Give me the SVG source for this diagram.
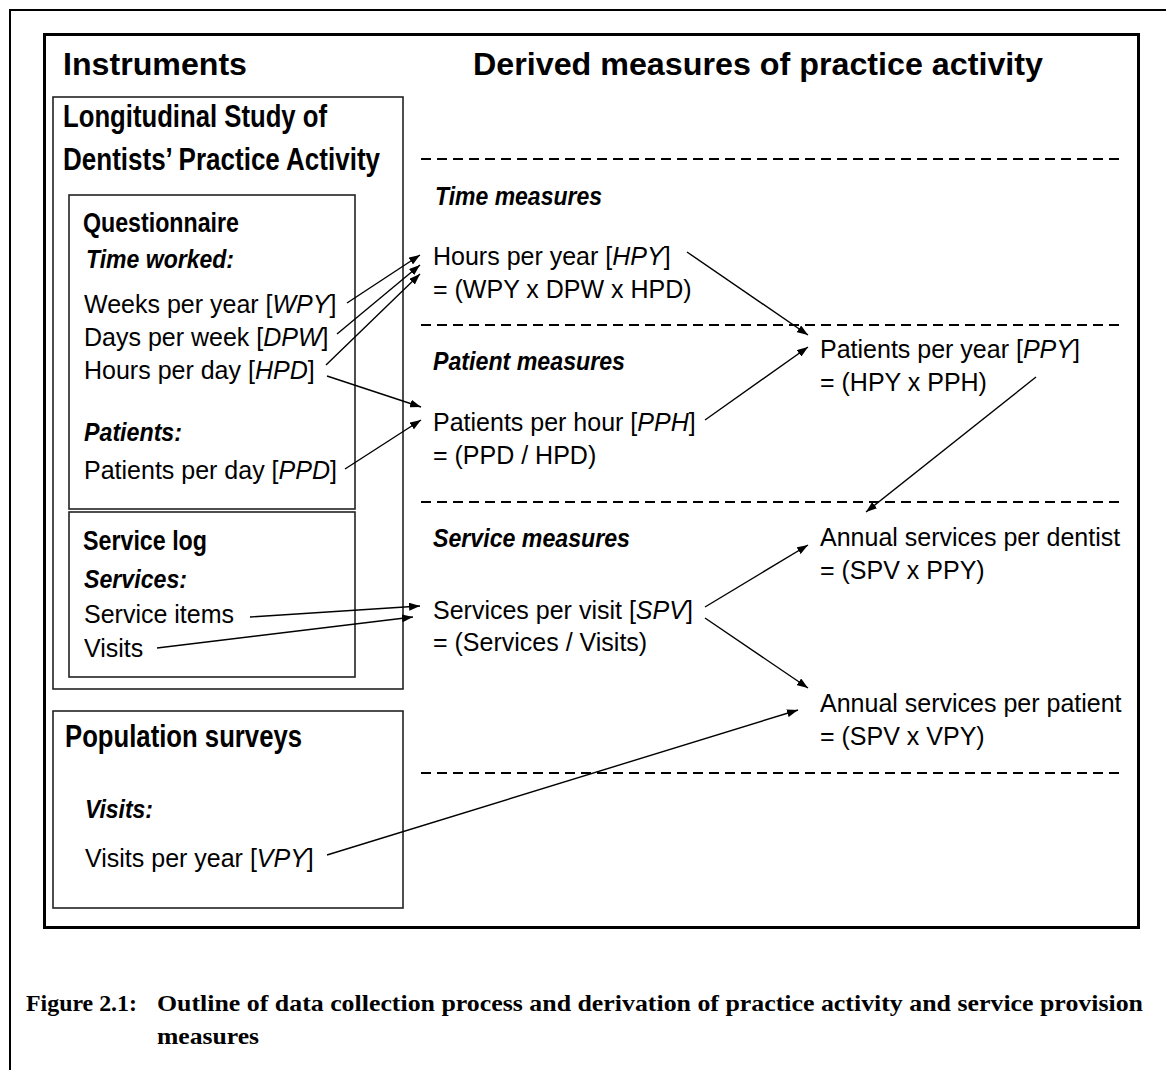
<svg xmlns="http://www.w3.org/2000/svg" width="1166" height="1070" viewBox="0 0 1166 1070">
<style>
.frame{fill:none;stroke:#000}
.box{fill:none;stroke:#222;stroke-width:1.6}
.dash{stroke:#000;stroke-width:2;stroke-dasharray:10 6}
.conn{stroke:#000;stroke-width:1.4;fill:none;marker-end:url(#ah)}
.t{font-family:"Liberation Sans",Arial,sans-serif;font-size:25px;fill:#000}
.h{font-family:"Liberation Sans",Arial,sans-serif;font-weight:bold;fill:#000}
.hi{font-family:"Liberation Sans",Arial,sans-serif;font-weight:bold;font-style:italic;fill:#000}
.cap{font-family:"Liberation Serif","Times New Roman",serif;font-weight:bold;font-size:23px;fill:#000}
</style>
<defs>
<marker id="ah" markerUnits="userSpaceOnUse" markerWidth="11" markerHeight="8" refX="11" refY="4" orient="auto">
<path d="M0,0 L11,4 L0,8 z" fill="#000"/>
</marker>
</defs>
<rect width="1166" height="1070" fill="#fff"/>
<rect class="frame" x="10" y="10" width="1200" height="1100" stroke-width="2"/>
<rect class="frame" x="44.5" y="34.5" width="1094" height="893" stroke-width="3"/>

<g id="headers">
<text class="h" x="63" y="75" font-size="32" textLength="184" lengthAdjust="spacingAndGlyphs">Instruments</text>
<text class="h" x="473" y="75" font-size="32" textLength="570" lengthAdjust="spacingAndGlyphs">Derived measures of practice activity</text>
</g>

<g id="longitudinal-study">
<rect class="box" x="53" y="97" width="350" height="592"/>
<text class="h" x="63" y="127" font-size="32" textLength="264" lengthAdjust="spacingAndGlyphs">Longitudinal Study of</text>
<text class="h" x="63" y="170" font-size="32" textLength="317" lengthAdjust="spacingAndGlyphs">Dentists’ Practice Activity</text>
</g>

<g id="questionnaire">
<rect class="box" x="69" y="195" width="286" height="314"/>
<text class="h" x="83" y="232" font-size="27" textLength="156" lengthAdjust="spacingAndGlyphs">Questionnaire</text>
<text class="hi" x="86" y="268" font-size="26" textLength="148" lengthAdjust="spacingAndGlyphs">Time worked:</text>
<text class="t" x="84" y="313">Weeks per year [<tspan font-style="italic">WPY</tspan>]</text>
<text class="t" x="84" y="346">Days per week [<tspan font-style="italic">DPW</tspan>]</text>
<text class="t" x="84" y="379">Hours per day [<tspan font-style="italic">HPD</tspan>]</text>
<text class="hi" x="84" y="441" font-size="26" textLength="98" lengthAdjust="spacingAndGlyphs">Patients:</text>
<text class="t" x="84" y="479">Patients per day [<tspan font-style="italic">PPD</tspan>]</text>
</g>

<g id="service-log">
<rect class="box" x="69" y="512" width="286" height="165"/>
<text class="h" x="83" y="550" font-size="27" textLength="124" lengthAdjust="spacingAndGlyphs">Service log</text>
<text class="hi" x="84" y="588" font-size="26" textLength="103" lengthAdjust="spacingAndGlyphs">Services:</text>
<text class="t" x="84" y="623">Service items</text>
<text class="t" x="84" y="657">Visits</text>
</g>

<g id="population-surveys">
<rect class="box" x="53" y="711" width="350" height="197"/>
<text class="h" x="65" y="747" font-size="32" textLength="237" lengthAdjust="spacingAndGlyphs">Population surveys</text>
<text class="hi" x="85" y="818" font-size="26" textLength="68" lengthAdjust="spacingAndGlyphs">Visits:</text>
<text class="t" x="85" y="867">Visits per year [<tspan font-style="italic">VPY</tspan>]</text>
</g>

<g id="section-dividers">
<line class="dash" x1="421" y1="159" x2="1122" y2="159"/>
<line class="dash" x1="421" y1="325" x2="1122" y2="325"/>
<line class="dash" x1="421" y1="502" x2="1122" y2="502"/>
<line class="dash" x1="421" y1="773" x2="1122" y2="773"/>
</g>

<g id="section-titles">
<text class="hi" x="435" y="205" font-size="26" textLength="167" lengthAdjust="spacingAndGlyphs">Time measures</text>
<text class="hi" x="433" y="370" font-size="26" textLength="192" lengthAdjust="spacingAndGlyphs">Patient measures</text>
<text class="hi" x="433" y="547" font-size="26" textLength="197" lengthAdjust="spacingAndGlyphs">Service measures</text>
</g>

<g id="hpy">
<text class="t" x="433" y="265">Hours per year [<tspan font-style="italic">HPY</tspan>]</text>
<text class="t" x="433" y="298">= (WPY x DPW x HPD)</text>
</g>
<g id="pph">
<text class="t" x="433" y="431">Patients per hour [<tspan font-style="italic">PPH</tspan>]</text>
<text class="t" x="433" y="464">= (PPD / HPD)</text>
</g>
<g id="spv">
<text class="t" x="433" y="619">Services per visit [<tspan font-style="italic">SPV</tspan>]</text>
<text class="t" x="433" y="651">= (Services / Visits)</text>
</g>
<g id="ppy">
<text class="t" x="820" y="358">Patients per year [<tspan font-style="italic">PPY</tspan>]</text>
<text class="t" x="820" y="391">= (HPY x PPH)</text>
</g>
<g id="aspd">
<text class="t" x="820" y="546">Annual services per dentist</text>
<text class="t" x="820" y="579">= (SPV x PPY)</text>
</g>
<g id="aspp">
<text class="t" x="820" y="712">Annual services per patient</text>
<text class="t" x="820" y="745">= (SPV x VPY)</text>
</g>

<g id="connectors">
<line class="conn" x1="347" y1="303" x2="420" y2="255"/>
<line class="conn" x1="337" y1="334" x2="420" y2="265"/>
<line class="conn" x1="326" y1="365" x2="420" y2="274"/>
<line class="conn" x1="327" y1="376" x2="421" y2="407"/>
<line class="conn" x1="345" y1="469" x2="421" y2="420"/>
<line class="conn" x1="250" y1="617" x2="420" y2="606"/>
<line class="conn" x1="157" y1="648" x2="413" y2="617"/>
<line class="conn" x1="687" y1="252" x2="808" y2="335"/>
<line class="conn" x1="705" y1="420" x2="808" y2="347"/>
<line class="conn" x1="1036" y1="377" x2="866" y2="512"/>
<line class="conn" x1="705" y1="607" x2="808" y2="545"/>
<line class="conn" x1="705" y1="618" x2="808" y2="688"/>
<line class="conn" x1="327" y1="855" x2="798" y2="710"/>
</g>

<g id="caption">
<text class="cap" x="26" y="1011" textLength="111" lengthAdjust="spacingAndGlyphs">Figure 2.1:</text>
<text class="cap" x="157" y="1011" textLength="986" lengthAdjust="spacingAndGlyphs">Outline of data collection process and derivation of practice activity and service provision</text>
<text class="cap" x="157" y="1044" textLength="102" lengthAdjust="spacingAndGlyphs">measures</text>
</g>
</svg>
